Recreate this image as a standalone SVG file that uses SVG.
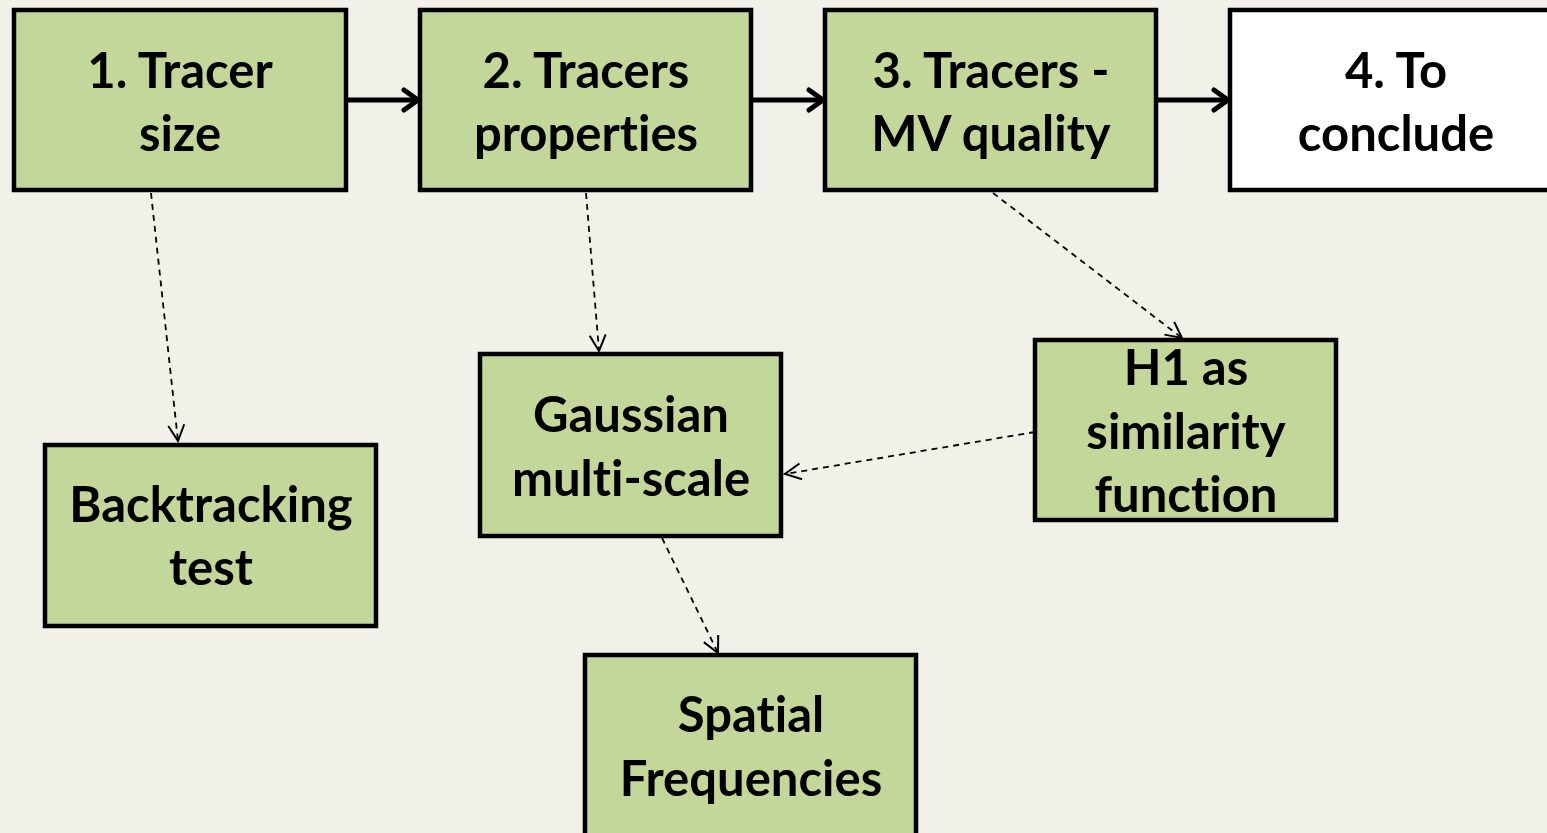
<svg xmlns="http://www.w3.org/2000/svg" width="1547" height="833" viewBox="0 0 1547 833">
<defs>
<marker id="open" viewBox="0 0 20 20" refX="18" refY="10" markerWidth="20" markerHeight="20" markerUnits="userSpaceOnUse" orient="auto">
<path d="M2,2 L18,10 L2,18" fill="none" stroke="#000" stroke-width="2"/>
</marker>
<marker id="bold" viewBox="0 0 30 30" refX="26" refY="15" markerWidth="30" markerHeight="30" markerUnits="userSpaceOnUse" orient="auto">
<path d="M12,5 L26,15 L12,25" fill="none" stroke="#000" stroke-width="5" stroke-linecap="round" stroke-linejoin="round"/>
</marker>
</defs>
<style>
.box{fill:#c4d79b;stroke:#000;stroke-width:4.5}
.white{fill:#ffffff;stroke:#000;stroke-width:4.5}
.t{font-family:Lato,"Liberation Sans",sans-serif;font-weight:bold;font-size:49px;text-anchor:middle;fill:#000;font-variant-ligatures:none}
.solid{stroke:#000;stroke-width:5;fill:none}
.dash{stroke:#000;stroke-width:1.8;stroke-dasharray:6,5;fill:none}
</style>
<rect width="1547" height="833" fill="#f1f1ea"/>
<g id="connectors">
<line class="solid" x1="346" y1="100" x2="418" y2="100" marker-end="url(#bold)"/>
<line class="solid" x1="751" y1="100" x2="823" y2="100" marker-end="url(#bold)"/>
<line class="solid" x1="1156" y1="100" x2="1228" y2="100" marker-end="url(#bold)"/>
<line class="dash" x1="151" y1="193" x2="178" y2="441" marker-end="url(#open)"/>
<line class="dash" x1="586" y1="193" x2="599" y2="351" marker-end="url(#open)"/>
<line class="dash" x1="993" y1="193" x2="1182" y2="338" marker-end="url(#open)"/>
<line class="dash" x1="1035" y1="432" x2="785" y2="474" marker-end="url(#open)"/>
<line class="dash" x1="662" y1="538" x2="718" y2="653" marker-end="url(#open)"/>
</g>
<g id="n1"><rect class="box" x="14" y="10" width="332" height="180"/><text class="t" x="180" y="88">1. Tracer</text><text class="t" x="180" y="151">size</text></g>
<g id="n2"><rect class="box" x="420" y="10" width="331" height="180"/><text class="t" x="586" y="88">2. Tracers</text><text class="t" x="586" y="151">properties</text></g>
<g id="n3"><rect class="box" x="825" y="10" width="331" height="180"/><text class="t" x="991" y="88">3. Tracers -</text><text class="t" x="991" y="151">MV quality</text></g>
<g id="n4"><rect class="white" x="1230" y="10" width="330" height="180"/><text class="t" x="1396" y="88">4. To</text><text class="t" x="1396" y="151">conclude</text></g>
<g id="n5"><rect class="box" x="45" y="445" width="331" height="181"/><text class="t" x="211" y="522">Backtracking</text><text class="t" x="211" y="585">test</text></g>
<g id="n6"><rect class="box" x="480" y="354" width="301" height="182"/><text class="t" x="631" y="432">Gaussian</text><text class="t" x="631" y="496">multi-scale</text></g>
<g id="n7"><rect class="box" x="1035" y="340" width="301" height="180"/><text class="t" x="1186" y="385">H1 as</text><text class="t" x="1186" y="449">similarity</text><text class="t" x="1186" y="512">function</text></g>
<g id="n8"><rect class="box" x="585" y="655" width="331" height="190"/><text class="t" x="751" y="732">Spatial</text><text class="t" x="751" y="796">Frequencies</text></g>
</svg>
